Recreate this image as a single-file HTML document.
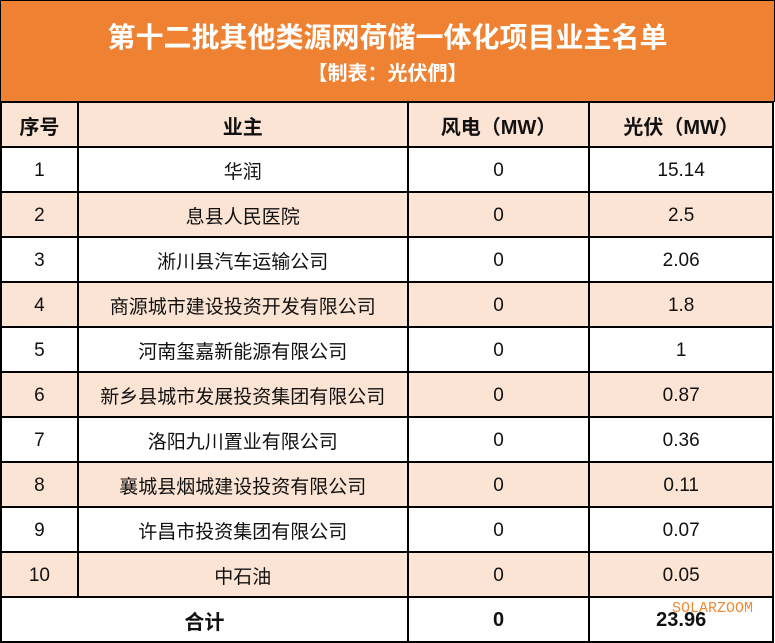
<!DOCTYPE html>
<html><head><meta charset="utf-8"><style>
*{margin:0;padding:0;box-sizing:border-box}
body{width:775px;height:643px;background:#fff;font-family:"Liberation Sans","Noto Sans CJK SC",sans-serif;position:relative;overflow:hidden}
.title{position:absolute;left:0;top:0;width:775px;height:102px;background:#EE8232;color:#fff;text-align:center;border:1px solid #000;border-bottom:none}
.t1{position:absolute;top:18px;width:100%;font-size:28px;font-weight:bold;line-height:38px}
.t2{position:absolute;top:59px;width:100%;font-size:20px;font-weight:bold;line-height:28px}
table{position:absolute;left:0;top:101px;border-collapse:collapse;width:774px}
td{border:2px solid #000;height:45px;text-align:center;font-size:19px;color:#111;padding:2px 0 0 0}
tr.p td{background:#FCE4D4}
tr.h td{font-weight:bold;font-size:20px}
.b td{font-weight:bold;font-size:20px}
.wm{position:absolute;left:672px;top:601px;color:#F08A33;font-family:"Liberation Mono",monospace;font-size:15px;line-height:16px}
</style></head><body>
<div class="title"><div class="t1">第十二批其他类源网荷储一体化项目业主名单</div><div class="t2">【制表：光伏們】</div></div>
<table>
<colgroup><col style="width:77px"><col style="width:331px"><col style="width:182px"><col style="width:184px"></colgroup>
<tr class="p h"><td>序号</td><td>业主</td><td>风电（MW）</td><td>光伏（MW）</td></tr>
<tr><td>1</td><td>华润</td><td>0</td><td>15.14</td></tr>
<tr class="p"><td>2</td><td>息县人民医院</td><td>0</td><td>2.5</td></tr>
<tr><td>3</td><td>淅川县汽车运输公司</td><td>0</td><td>2.06</td></tr>
<tr class="p"><td>4</td><td>商源城市建设投资开发有限公司</td><td>0</td><td>1.8</td></tr>
<tr><td>5</td><td>河南玺嘉新能源有限公司</td><td>0</td><td>1</td></tr>
<tr class="p"><td>6</td><td>新乡县城市发展投资集团有限公司</td><td>0</td><td>0.87</td></tr>
<tr><td>7</td><td>洛阳九川置业有限公司</td><td>0</td><td>0.36</td></tr>
<tr class="p"><td>8</td><td>襄城县烟城建设投资有限公司</td><td>0</td><td>0.11</td></tr>
<tr><td>9</td><td>许昌市投资集团有限公司</td><td>0</td><td>0.07</td></tr>
<tr class="p"><td>10</td><td>中石油</td><td>0</td><td>0.05</td></tr>
<tr class="b"><td colspan="2">合计</td><td>0</td><td>23.96</td></tr>
</table>
<div class="wm">SOLARZOOM</div>
</body></html>
